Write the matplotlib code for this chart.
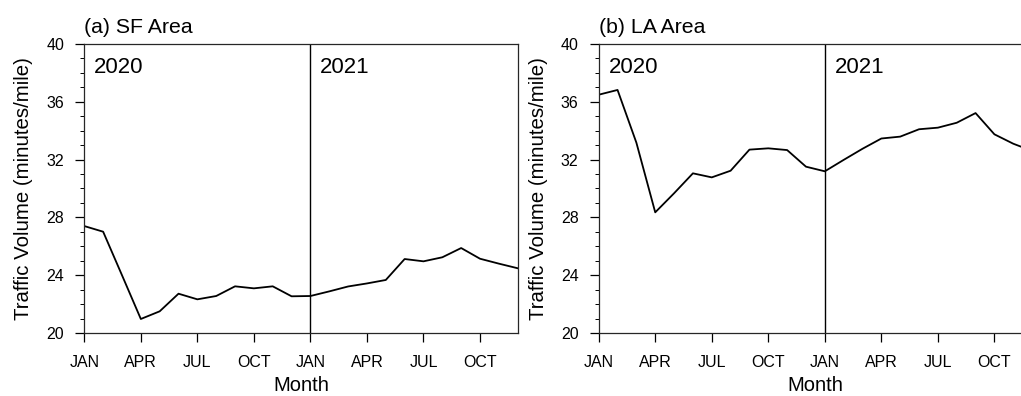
import matplotlib
matplotlib.use("Agg")
import matplotlib.pyplot as plt
from matplotlib.ticker import MultipleLocator, FixedLocator
import numpy as np

plt.rcParams['font.family'] = ['Liberation Sans', 'DejaVu Sans']

# Monthly average traffic volume, Jan 2020 - Dec 2021
months = np.arange(24)
sf_volume = [27.40, 27.01, 24.00, 20.97, 21.50, 22.72, 22.33, 22.56, 23.23, 23.09, 23.23, 22.54,
             22.56, 22.88, 23.22, 23.43, 23.67, 25.12, 24.96, 25.24, 25.88, 25.14, 24.80, 24.48]
la_volume = [36.49, 36.82, 33.17, 28.35, 29.67, 31.05, 30.77, 31.23, 32.69, 32.78, 32.66, 31.51,
             31.19, 31.98, 32.75, 33.46, 33.59, 34.10, 34.21, 34.55, 35.22, 33.75, 33.10, 32.60]

tick_months = [0, 3, 6, 9, 12, 15, 18, 21]
tick_labels = ['JAN', 'APR', 'JUL', 'OCT', 'JAN', 'APR', 'JUL', 'OCT']
year_labels = ['2020', '2021']
year_starts = [0, 12]
panel_titles = ['(a) SF Area', '(b) LA Area']

W, H = 1021, 396
fig = plt.figure(figsize=(W / 100, H / 100), dpi=100)

panel_left_px = [84.3, 598.7]
ax_w_px = 433.4
ax_top_px, ax_bot_px = 44, 333


def draw_panel(ax, values, title):
    ax.plot(months, values, color='black', lw=1.3)
    ax.axvline(12, color='black', lw=1.0)
    ax.set_xlim(0, 23)
    ax.set_ylim(20, 40)
    ax.xaxis.set_major_locator(FixedLocator(tick_months))
    ax.set_xticklabels(tick_labels)
    ax.yaxis.set_major_locator(MultipleLocator(4))
    ax.yaxis.set_minor_locator(MultipleLocator(1))
    ax.tick_params(axis='both', which='major', direction='out', length=6.5,
                   width=0.9, labelsize=11.5, colors='black')
    ax.tick_params(axis='y', which='major', pad=8)
    ax.tick_params(axis='x', which='major', pad=9)
    ax.tick_params(axis='y', which='minor', direction='out', length=3, width=0.7)
    ax.tick_params(top=False, right=False, which='both')
    for s in ax.spines.values():
        s.set_linewidth(0.9)
        s.set_color('#262626')
    ax.set_xlabel('Month', fontsize=14.5)
    ax.xaxis.set_label_coords(0.5, -0.150)
    ax.set_ylabel('Traffic Volume (minutes/mile)', fontsize=14.7)
    ax.yaxis.set_label_coords(-0.118, 0.5)
    ax.annotate(title, xy=(0, 1), xycoords='axes fraction', xytext=(0, 8),
                textcoords='offset points', ha='left', va='baseline', fontsize=15.3)
    for yl, xs in zip(year_labels, year_starts):
        ax.annotate(yl, xy=(xs, 1), xycoords=ax.get_xaxis_transform(),
                    xytext=(7, -21), textcoords='offset points',
                    ha='left', va='baseline', fontsize=16)


for left_px, vals, title in zip(panel_left_px, [sf_volume, la_volume], panel_titles):
    ax = fig.add_axes([left_px / W, (H - ax_bot_px) / H, ax_w_px / W,
                       (ax_bot_px - ax_top_px) / H])
    draw_panel(ax, vals, title)

fig.savefig('out.png', dpi=100)
